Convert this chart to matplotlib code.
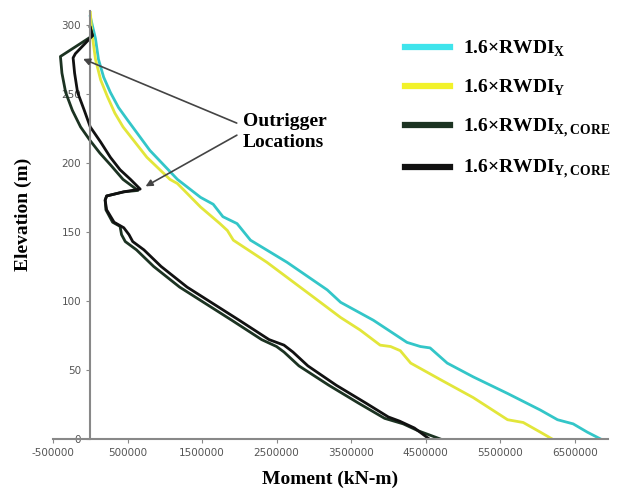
import matplotlib.pyplot as plt
import numpy as np

plt.rcParams['mathtext.fontset'] = 'custom'
plt.rcParams['mathtext.rm'] = 'Liberation Serif'
plt.rcParams['mathtext.bf'] = 'Liberation Serif:bold'

# moment values in kN-m, elevations in m
x_mom = [0, 70000, 110000, 180000, 270000, 380000, 500000, 800000, 1170000,
         1480000, 1650000, 1780000, 1970000, 2150000, 2640000, 3180000, 3360000,
         3800000, 4250000, 4430000, 4560000, 4790000, 5140000, 5600000, 6040000,
         6270000, 6480000, 6670000, 6850000]
x_elev = [306, 290, 275, 262, 251, 240, 231, 209, 188, 175, 170, 161, 156, 144,
          128, 108, 99, 86, 70, 67, 66, 55, 45, 33, 21, 14, 11, 5, 0]

y_mom = [0, 20000, 70000, 140000, 230000, 330000, 440000, 760000, 1070000,
         1170000, 1480000, 1740000, 1840000, 1920000, 2370000, 2990000, 3360000,
         3620000, 3890000, 4030000, 4160000, 4300000, 4700000, 5140000, 5600000,
         5810000, 6040000, 6200000]
y_elev = [310, 295, 275, 260, 248, 236, 226, 204, 188, 185, 168, 156, 151, 144,
          128, 103, 88, 79, 68, 67, 64, 55, 43, 30, 14, 12, 5, 0]

xc_mom = [0, 30000, -400000, -380000, -330000, -240000, -130000, 0, 130000,
          280000, 440000, 640000, 450000, 220000, 200000, 210000, 300000, 400000,
          420000, 470000, 620000, 850000, 1200000, 1550000, 1900000, 2300000,
          2500000, 2600000, 2800000, 3200000, 3600000, 3950000, 4200000, 4400000,
          4700000]
xc_elev = [298, 292, 277, 265, 251, 238, 226, 216, 207, 198, 188, 180, 179, 176,
           173, 166, 157, 154, 148, 143, 137, 125, 110, 98, 86, 72, 67, 63, 53,
           39, 26, 15, 11, 6, 0]

yc_mom = [0, 30000, -200000, -230000, -210000, -170000, -80000, 0, 140000,
          270000, 400000, 540000, 670000, 450000, 220000, 200000, 220000, 320000,
          450000, 520000, 570000, 720000, 950000, 1300000, 1650000, 2000000,
          2400000, 2600000, 2720000, 2920000, 3300000, 3700000, 4000000, 4150000,
          4350000, 4550000]
yc_elev = [298, 292, 279, 276, 265, 251, 238, 226, 215, 204, 195, 188, 181, 179,
           176, 173, 166, 157, 153, 148, 143, 137, 125, 110, 98, 86, 72, 68, 63,
           53, 39, 26, 16, 13, 8, 0]

xticks = np.arange(-500000, 6600000, 1000000)
yticks = np.arange(0, 301, 50)

fig = plt.figure(figsize=(6.27, 4.95), dpi=100)
ax = fig.add_axes([0.0845, 0.113, 0.8855, 0.865])

ax.plot(x_mom, x_elev, color='#33c6c8', lw=2, label=r'1.6×RWDI$_{\mathbf{X}}$')
ax.plot(y_mom, y_elev, color='#e2e63a', lw=2, label=r'1.6×RWDI$_{\mathbf{Y}}$')
ax.plot(xc_mom, xc_elev, color='#1c3322', lw=2, label=r'1.6×RWDI$_{\mathbf{X,CORE}}$')
ax.plot(yc_mom, yc_elev, color='#111111', lw=2, label=r'1.6×RWDI$_{\mathbf{Y,CORE}}$')

ax.set_xlim(-500000, 6950000)
ax.set_ylim(0, 310)
ax.set_xticks(xticks)
ax.set_xticklabels([str(v) for v in xticks])
ax.set_yticks(yticks)

for s in ['top', 'right']:
    ax.spines[s].set_visible(False)
ax.spines['left'].set_position(('data', 0))
ax.spines['left'].set_color('#888888')
ax.spines['bottom'].set_color('#888888')
ax.spines['left'].set_linewidth(1.5)
ax.spines['bottom'].set_linewidth(1.5)
ax.tick_params(colors='#888888', labelcolor='#555555', labelsize=7.5, length=3)

fig.text(0.527, 0.015, 'Moment (kN-m)', family='Liberation Serif', weight='bold',
         fontsize=14, ha='center', va='bottom')
fig.text(0.037, 0.566, 'Elevation (m)', family='Liberation Serif', weight='bold',
         fontsize=14, rotation=90, ha='center', va='center')

ax.text(2050000, 222, 'Outrigger\nLocations', family='Liberation Serif',
        weight='bold', fontsize=14, ha='left', va='center', linespacing=1.3)
arrow = dict(arrowstyle='-|>', color='#444444', lw=1.2, mutation_scale=10)
ax.annotate('', xy=(-130000, 276), xytext=(2000000, 228), arrowprops=arrow)
ax.annotate('', xy=(710000, 182), xytext=(2000000, 221), arrowprops=arrow)

leg = ax.legend(loc='upper left', bbox_to_anchor=(0.603, 0.975), frameon=False,
                prop={'family': 'Liberation Serif', 'weight': 'bold', 'size': 14},
                handlelength=2.3, labelspacing=0.95, handletextpad=0.65)
for h in leg.get_lines():
    h.set_linewidth(4.5)
leg.get_lines()[0].set_color('#3fe4ec')
leg.get_lines()[1].set_color('#f2f22a')

fig.savefig('out.png', dpi=100)
